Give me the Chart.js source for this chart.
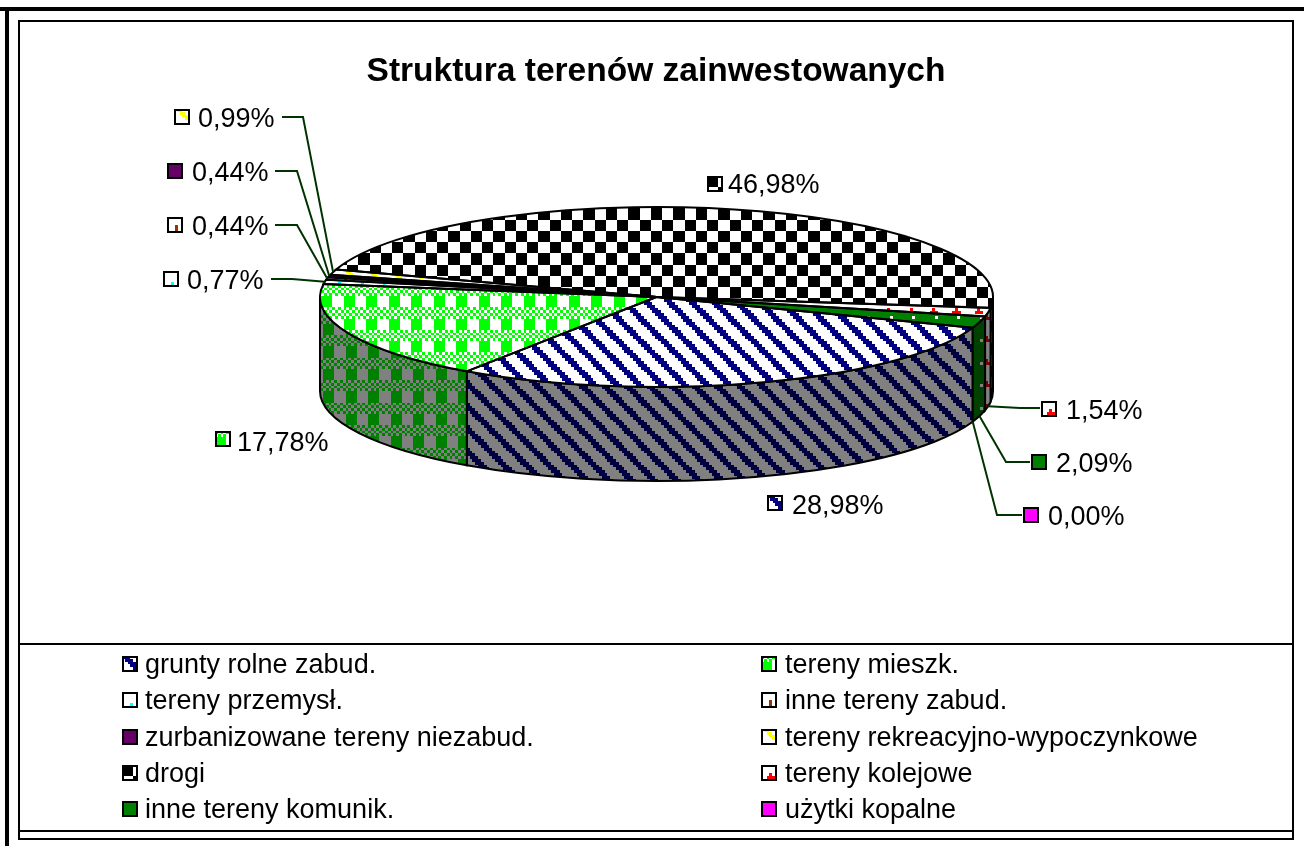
<!DOCTYPE html>
<html><head><meta charset="utf-8">
<style>html,body{margin:0;padding:0;background:#fff}canvas{display:block}</style>
<script src="https://cdn.jsdelivr.net/npm/chart.js@4"></script>
</head><body><canvas id="c" width="1304" height="846"></canvas>
<script>
const chartTitle = 'Struktura terenów zainwestowanych';
const categories = ['grunty rolne zabud.','tereny mieszk.','tereny przemysł.','inne tereny zabud.','zurbanizowane tereny niezabud.','tereny rekreacyjno-wypoczynkowe','drogi','tereny kolejowe','inne tereny komunik.','użytki kopalne'];
const values = [28.98,17.78,0.77,0.44,0.44,0.99,46.98,1.54,2.09,0.00];

/* label layout: swatch x,y, text x, baseline, leader elbow x,y, leader end x */
const labelLayout = [
  [767,495,792,514],[215,431,237,451],
  [163,271,187,289,292,279,271],[167,217,192,235,297,225,275],
  [167,163,192,181,297,171,275],[174,109,198,127,303,117,282],
  [707,176,728,193],
  [1041,401,1066,419,1020,408,1040],[1031,454,1056,472,1006,462,1030],[1023,507,1048,525,997,515,1022]
];
const legendColX = [[122,145],[761,785]];
const legendRowBase = [673,709,746,782,818];
/* swatch tile shift in cells, so each small box shows its pattern's mark */
const swatchShift = [[0,0],[0,-2],[0,-3],[-2,0],[0,0],[0,-2],[0,0],[0,-3],[0,-5],[0,0]];

const CX=656.5, CY=297, RX=336.5, RY=90, DEPTH=94, K=RY/RX, S=2.8125;
const FONT='27px "Liberation Sans"';

const T = {
 diag:["11100000","01110000","00111000","00011100","00001110","00000111","10000011","11000001"],
 ging:["10101010","01010101","10101010","01010101","11110000","11110000","11110000","11110000"],
 dotC:["00000000","00000000","00000000","00000000","00000000","00000000","00000000","00010000"],
 barB:["00000000","00000000","00000000","00000100","00000100","00000100","00000100","00000100"],
 full:["1"],
 dash:["00000000","00000000","01100000","00110000","00011000","00001100","00000000","00000000"],
 chk:["11110000","11110000","11110000","11110000","00001111","00001111","00001111","00001111"],
 rail:["00000000","00000000","00000000","00000000","00000000","00000000","00010000","00111000"],
 dotW:["00000000","00000000","00000000","00010000","00000000","00000000","00000000","00000000"]
};
function tile(rows,fg,bg){
  const c=document.createElement('canvas');c.width=rows[0].length;c.height=rows.length;
  const x=c.getContext('2d');x.fillStyle=bg;x.fillRect(0,0,c.width,c.height);x.fillStyle=fg;
  rows.forEach((r,j)=>[...r].forEach((v,i)=>{if(v==='1')x.fillRect(i,j,1,1)}));return c;
}
const topSpec=[
 [T.diag,'#000080','#ffffff',644,302],[T.ging,'#00ff00','#ffffff',411,284.75],
 [T.dotC,'#00ffff','#ffffff',330,262],[T.barB,'#993300','#ffffff',330,262],
 [T.full,'#660066','#660066',0,0],[T.dash,'#ffff00','#ffffff',340,262],
 [T.chk,'#000000','#ffffff',932,287],[T.rail,'#ff0000','#ffffff',969,291],
 [T.dotW,'#ffffff','#008000',949,308],[T.full,'#ff00ff','#ff00ff',0,0]
];
const wallSpec=[
 [T.diag,'#000040','#808080',464,383],[T.ging,'#008000','#808080',458,380],
 [T.dotC,'#008080','#808080',330,262],[T.barB,'#4d1a00','#808080',330,262],
 [T.full,'#330033','#330033',0,0],[T.dash,'#808000','#808080',340,262],
 [T.chk,'#000000','#808080',932,287],[T.rail,'#800000','#808080',977,297],
 [T.dotW,'#808080','#004000',972,331],[T.full,'#800080','#800080',0,0]
];
const ctx=document.getElementById('c').getContext('2d');
const mk=(t,f,b)=>ctx.createPattern(tile(t,f,b),'repeat');
const topPat=topSpec.map(s=>mk(s[0],s[1],s[2]));
const wallPat=wallSpec.map((s,i)=>{const p=mk(s[0],s[1],s[2]);p.setTransform(new DOMMatrix([S,0,0,S,s[3],s[4]]));return p;});
const swatch=(i,x,y)=>{const s=topSpec[i],d=swatchShift[i];const p=mk(s[0],s[1],s[2]);p.setTransform(new DOMMatrix([S,0,0,S,x+d[0]*S,y+d[1]*S]));return p;};

function box(x,y,i){
  ctx.fillStyle=swatch(i,x,y);ctx.fillRect(x,y,15,15);
  ctx.strokeStyle='#000';ctx.lineWidth=2;ctx.strokeRect(x+1,y+1,14,14);
}
const fmt=v=>v.toFixed(2).replace('.',',')+'%';

const pie3d={id:'pie3d',
 beforeDraw(chart){
  const c=chart.ctx;c.imageSmoothingEnabled=false;
  c.fillStyle='#fff';c.fillRect(0,0,1304,846);
  c.fillStyle='#000';
  c.fillRect(0,7,1304,4);c.fillRect(5,7,4,839);
  c.fillRect(18,20,1276,2);c.fillRect(18,20,2,820);c.fillRect(1292,20,2,820);
  c.fillRect(18,838,1276,2);c.fillRect(18,830,1276,2);c.fillRect(18,643,1276,2);
 },
 beforeDatasetsDraw(chart){
  const c=chart.ctx,arcs=chart.getDatasetMeta(0).data;
  [[0,Math.PI],[2*Math.PI,3*Math.PI]].forEach(([lo,hi])=>{
   arcs.forEach((el,i)=>{
    const b0=Math.max(el.startAngle,lo),b1=Math.min(el.endAngle,hi);
    if(b1<=b0)return;
    c.beginPath();c.ellipse(CX,CY,RX,RY,0,b0,b1);c.ellipse(CX,CY+DEPTH,RX,RY,0,b1,b0,true);c.closePath();
    c.fillStyle=wallPat[i];c.fill();
    c.strokeStyle='#000';c.lineWidth=2;c.stroke();
   });
  });
 },
 beforeDatasetDraw(chart){
  const c=chart.ctx,el=chart.getDatasetMeta(0).data[0];
  topSpec.forEach((s,i)=>topPat[i].setTransform(new DOMMatrix([S,0,0,S/K,s[3]-(CX-el.x),(s[4]-CY+K*el.y)/K])));
  c.save();c.translate(CX,CY);c.scale(1,K);c.translate(-el.x,-el.y);
 },
 afterDatasetDraw(chart){
  const c=chart.ctx;c.restore();
  chart.getDatasetMeta(0).data.forEach(el=>{
   if(el.endAngle-el.startAngle<1e-6)return;
   c.beginPath();c.moveTo(CX,CY);c.ellipse(CX,CY,RX,RY,0,el.startAngle,el.endAngle);c.closePath();
   c.strokeStyle='#000';c.lineWidth=2;c.stroke();
  });
 },
 afterDraw(chart){
  const c=chart.ctx,arcs=chart.getDatasetMeta(0).data;
  c.strokeStyle='#003300';c.lineWidth=2;
  labelLayout.forEach((l,i)=>{
   if(l.length<5)return;
   const m=(arcs[i].startAngle+arcs[i].endAngle)/2,low=Math.sin(m)>0;
   c.beginPath();c.moveTo(CX+RX*Math.cos(m),CY+RY*Math.sin(m)+(low?DEPTH:0));
   c.lineTo(l[4],l[5]);c.lineTo(l[6],l[5]);c.stroke();
  });
  c.font=FONT;c.textAlign='left';c.textBaseline='alphabetic';
  labelLayout.forEach((l,i)=>{
   box(l[0],l[1],i);c.fillStyle='#000';c.fillText(fmt(values[i]),l[2],l[3]);
  });
  categories.forEach((t,i)=>{
   const col=legendColX[i%2],base=legendRowBase[Math.floor(i/2)];
   box(col[0],base-17,i);
   c.fillStyle='#000';c.fillText(t,col[1],base);
  });
 }
};

new Chart(ctx,{type:'pie',
 data:{labels:categories,datasets:[{data:values,backgroundColor:topPat,borderWidth:0,clip:false}]},
 options:{responsive:false,animation:false,rotation:110,radius:RX,
  layout:{padding:{left:8}},
  plugins:{legend:{display:false},tooltip:{enabled:false},
   title:{display:true,text:chartTitle,color:'#000',font:{family:'"Liberation Sans"',size:33.5,weight:'bold'},padding:{top:52,bottom:0}}}},
 plugins:[pie3d]});
</script></body></html>
